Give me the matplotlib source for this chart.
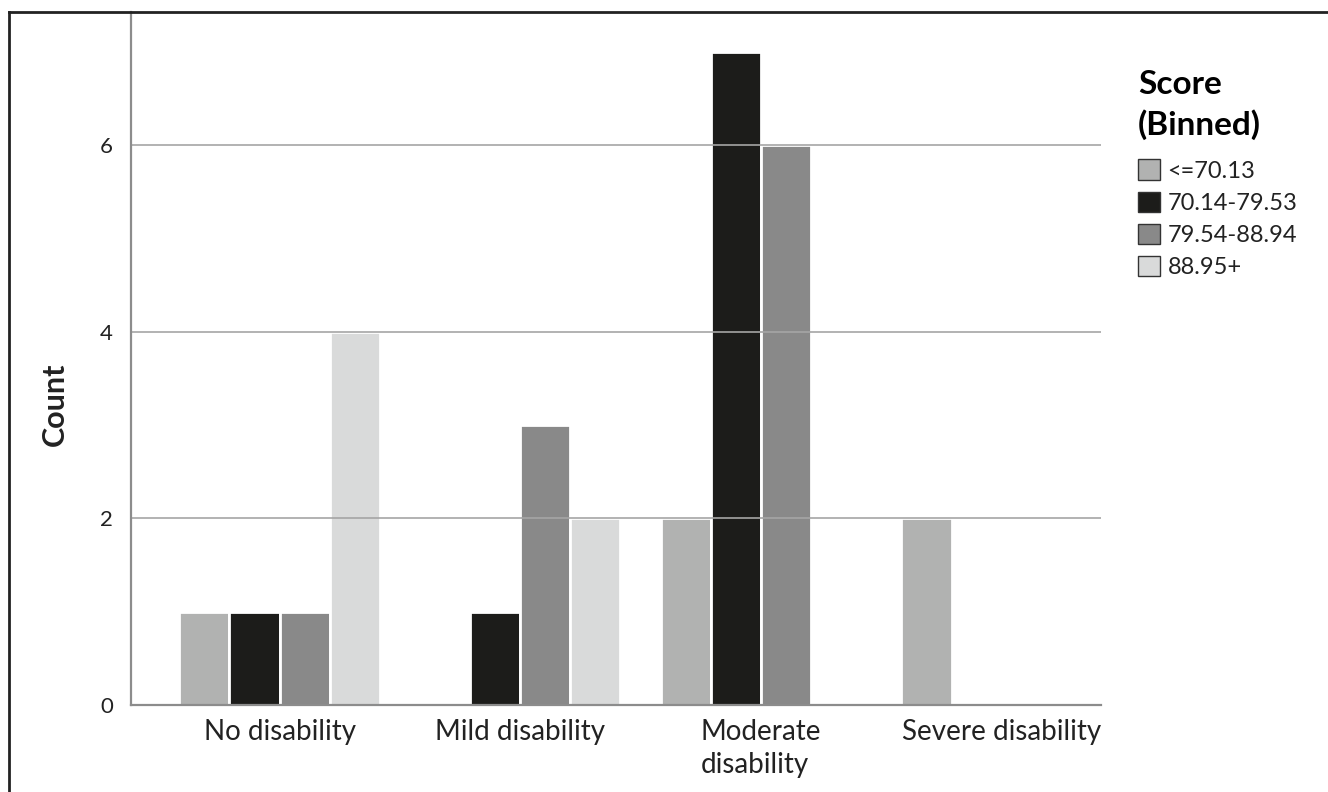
import matplotlib.pyplot as plt
from matplotlib.lines import Line2D
from matplotlib.patches import Patch
import numpy as np

plt.rcParams['font.family'] = ['Lato', 'DejaVu Sans']

categories = ["No disability", "Mild disability", "Moderate\ndisability", "Severe disability"]
bins = ["<=70.13", "70.14-79.53", "79.54-88.94", "88.95+"]
counts = {
    "<=70.13":     [1, 0, 2, 2],
    "70.14-79.53": [1, 1, 7, 0],
    "79.54-88.94": [1, 3, 6, 0],
    "88.95+":      [4, 2, 0, 0],
}
colors = ["#b1b2b1", "#1c1c1a", "#898989", "#d9dada"]

W, H = 1328, 792
fig = plt.figure(figsize=(W / 100, H / 100), dpi=100)
ax = fig.add_axes([131 / W, 1 - 705 / H, (1101 - 131) / W, (705 - 12) / H])

x = np.arange(len(categories))
bw = 0.208
for j, b in enumerate(bins):
    ax.bar(x + (j - 1.5) * bw, counts[b], width=bw, color=colors[j],
           edgecolor="white", linewidth=2, zorder=2)

ax.set_xlim(-0.617, 3.413)
ax.set_ylim(0, 7.425)
ax.set_yticks([0, 2, 4, 6])
ax.set_xticks(x)
ax.set_xticklabels(categories, fontsize=20, color="#222222", linespacing=1.35,
                   multialignment="left")
ax.tick_params(axis="y", length=0, pad=13, labelsize=16, labelcolor="#222222")
ax.tick_params(axis="x", length=0, pad=10)

ax.yaxis.grid(True, color="#a5a5a5", linewidth=1.2, zorder=3)
ax.set_axisbelow(False)
for s in ["top", "right"]:
    ax.spines[s].set_visible(False)
for s in ["left", "bottom"]:
    ax.spines[s].set_color("#8c8c8c")
    ax.spines[s].set_linewidth(1.6)
    ax.spines[s].set_zorder(4)

fig.text(55 / W, 1 - 404 / H, "Count", rotation=90, fontsize=22,
         fontweight="bold", ha="center", va="center", color="#222222")

handles = [Patch(facecolor=c, edgecolor="#333333", linewidth=1) for c in colors]
leg = ax.legend(handles, bins, loc="upper left",
                bbox_to_anchor=(1138 / W, 1 - 70 / H), bbox_transform=fig.transFigure,
                frameon=False, fontsize=17, title="Score\n(Binned)",
                title_fontproperties={"weight": "bold", "size": 24},
                alignment="left", borderpad=0, borderaxespad=0,
                handlelength=0.95, handleheight=0.95, handletextpad=0.3,
                labelspacing=0.42)
leg.get_title().set_linespacing(1.4)
leg._legend_box.sep = 14
for t in leg.get_texts():
    t.set_color("#222222")

# frame lines on the top and left edges of the picture
fig.add_artist(Line2D([9 / W, 9 / W], [0, 1 - 12 / H], transform=fig.transFigure,
                      color="#222222", linewidth=2))
fig.add_artist(Line2D([9 / W, 1], [1 - 12 / H, 1 - 12 / H], transform=fig.transFigure,
                      color="#222222", linewidth=2))

fig.savefig("out.png", dpi=100)
